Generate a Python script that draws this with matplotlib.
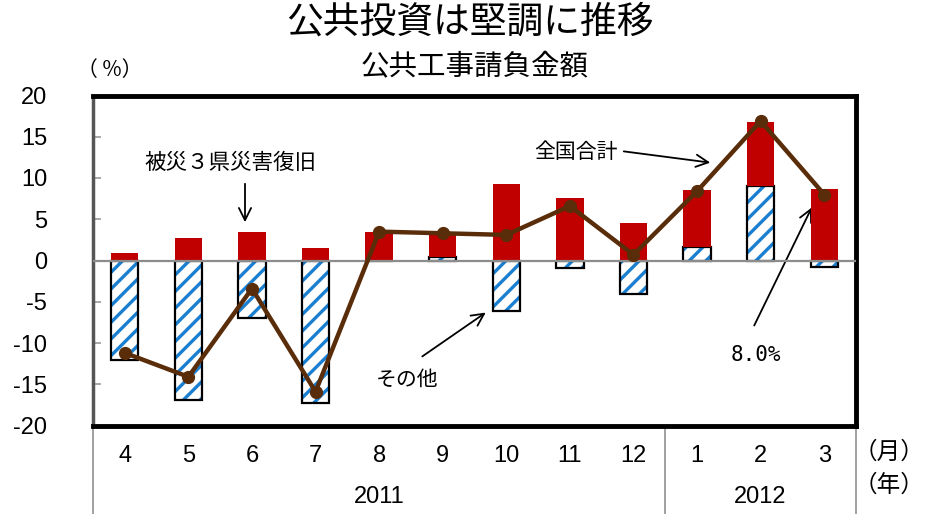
import matplotlib
matplotlib.use("Agg")
import matplotlib.pyplot as plt
import matplotlib.transforms as mtransforms
import numpy as np

# Monthly growth contributions (%), FY2011
months = ["4", "5", "6", "7", "8", "9", "10", "11", "12", "1", "2", "3"]
years = ["2011", "2012"]
year_spans = [(0, 8), (9, 11)]
disaster3 = [0.9, 2.7, 3.5, 1.5, 3.5, 3.0, 9.3, 7.6, 4.5, 6.9, 7.8, 8.7]
others = [-12.0, -16.9, -7.0, -17.3, 0.0, 0.4, -6.1, -0.9, -4.0, 1.6, 9.0, -0.8]
total = [-11.2, -14.1, -3.4, -15.9, 3.5, 3.3, 3.1, 6.6, 0.7, 8.4, 16.9, 8.0]
yticks = [-20, -15, -10, -5, 0, 5, 10, 15, 20]

JP = ["Noto Sans CJK JP", "DejaVu Sans"]
NUM = ["Liberation Sans Narrow", "Liberation Sans", "DejaVu Sans"]

plt.rcParams["hatch.linewidth"] = 2.4

W, H = 939, 514
fig = plt.figure(figsize=(W / 100, H / 100), dpi=100)
left, right, top, bottom = 93, 856, 95.5, 425.5
ax = fig.add_axes([left / W, 1 - bottom / H, (right - left) / W, (bottom - top) / H])

x = np.arange(len(months))
bw = 0.43
oth = np.array(others)
red = np.array(disaster3)

# "other" component: blue diagonal stripes with a black outline
ax.bar(x, oth, bw, color="white", edgecolor="#1a7fd0", hatch="//", linewidth=0, zorder=2)
ax.bar(x, oth, bw, color="none", edgecolor="black", linewidth=1.6, zorder=3)
# disaster-recovery component stacked on positive "other"
base = np.where(oth > 0, oth, 0)
ax.bar(x, red, bw, bottom=base, color="#c00000", edgecolor="none", zorder=4)

ax.axhline(0, color="#8c8c8c", lw=1.6, zorder=5)
ax.plot(x, total, color="#5a2d0a", lw=3.2, marker="o", markersize=8.5, zorder=6)

ax.set_xlim(-0.5, len(months) - 0.5)
ax.set_ylim(-20, 20)
ax.set_yticks(yticks)
ax.set_yticklabels([str(v) for v in yticks], family=NUM, fontsize=17)
ax.tick_params(axis="y", direction="in", length=6, color="#999999", width=1.2, pad=33)
ax.set_xticks(x)
ax.set_xticklabels(months, family=NUM, fontsize=17)
ax.tick_params(axis="x", length=0, pad=14)

for s in ["top", "right", "bottom"]:
    ax.spines[s].set_linewidth(3.5)
    ax.spines[s].set_color("black")
ax.spines["left"].set_linewidth(2.5)
ax.spines["left"].set_color("#555555")

# category table below the axis
trans = mtransforms.blended_transform_factory(ax.transData, ax.transAxes)
ybot = -(H - bottom) / (bottom - top)
for xb in [-0.5, 8.5, 11.5]:
    ax.plot([xb, xb], [0, ybot], transform=trans, color="#999999", lw=1.3, clip_on=False)
for yr, (a, b) in zip(years, year_spans):
    ax.text((a + b) / 2, -(497 - bottom) / (bottom - top), yr, transform=trans,
            ha="center", va="center", family=NUM, fontsize=17)

fig.text(889 / W, 1 - 452 / H, "（月）", ha="center", va="center", family=JP, fontsize=17)
fig.text(889 / W, 1 - 485 / H, "（年）", ha="center", va="center", family=JP, fontsize=17)

# titles
fig.text(470 / W, 1 - 22 / H, "公共投資は堅調に推移", ha="center", va="center", family=JP, fontsize=26.5)
fig.text(475 / W, 1 - 67 / H, "公共工事請負金額", ha="center", va="center", family=JP, fontsize=20.5)
fig.text(110 / W, 1 - 70 / H, "（ %）", ha="center", va="center", family=JP, fontsize=15)

# annotations
def fx(px):
    return px / W

def fy(py):
    return 1 - py / H

arrow = dict(arrowstyle="->", color="black", lw=1.3, mutation_scale=22)
fig.text(fx(230), fy(163), "被災３県災害復旧", ha="center", va="center", family=JP, fontsize=15.5)
ax.annotate("", xy=(fx(245), fy(225)), xytext=(fx(245), fy(181)),
            xycoords="figure fraction", textcoords="figure fraction", arrowprops=arrow)
fig.text(fx(576), fy(152), "全国合計", ha="center", va="center", family=JP, fontsize=15)
ax.annotate("", xy=(fx(713), fy(163)), xytext=(fx(621), fy(151)),
            xycoords="figure fraction", textcoords="figure fraction", arrowprops=arrow)
fig.text(fx(407), fy(380), "その他", ha="center", va="center", family=JP, fontsize=15)
ax.annotate("", xy=(fx(488), fy(311)), xytext=(fx(420), fy(358)),
            xycoords="figure fraction", textcoords="figure fraction", arrowprops=arrow)
fig.text(fx(756), fy(355), "8.0%", ha="center", va="center", family=["DejaVu Sans Mono"], fontsize=15)
ax.annotate("", xy=(fx(813), fy(205)), xytext=(fx(753), fy(328)),
            xycoords="figure fraction", textcoords="figure fraction", arrowprops=arrow)

fig.savefig("out.png", dpi=100)
